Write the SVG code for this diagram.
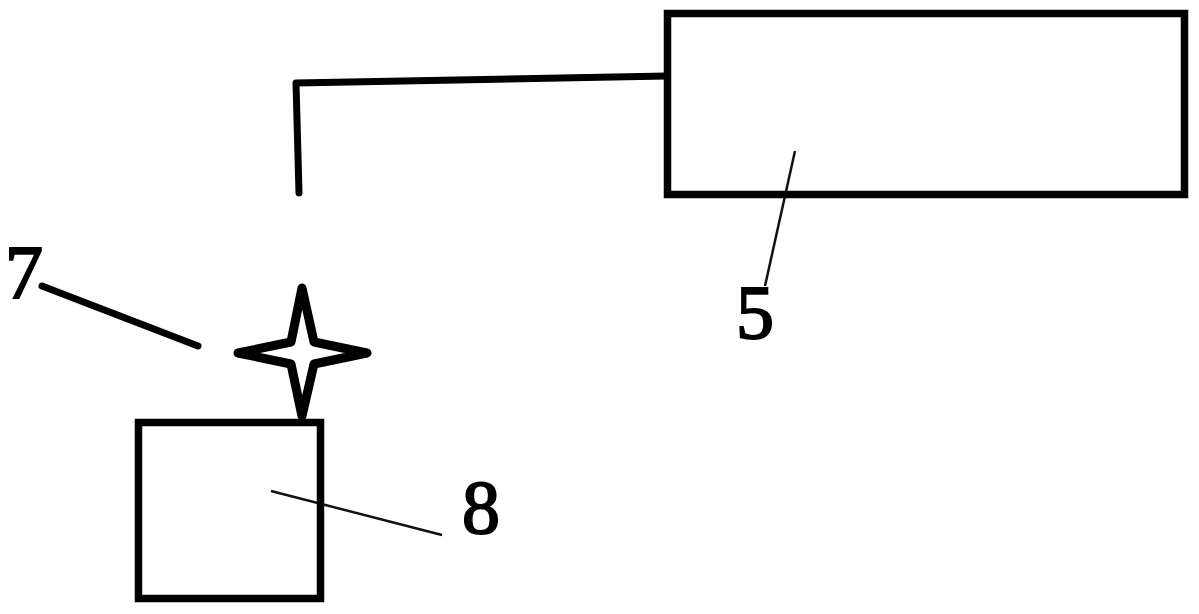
<svg xmlns="http://www.w3.org/2000/svg" width="1199" height="614" viewBox="0 0 1199 614">
<style>
.b{fill:none;stroke:#000;stroke-width:7;stroke-linejoin:round;stroke-linecap:round}
.s{fill:none;stroke:#000;stroke-width:9;stroke-linejoin:round;stroke-linecap:round}
.t{fill:none;stroke:#111;stroke-width:2.500}
.n{font-family:"Liberation Serif",serif;font-size:76px;fill:#000;stroke:#000;stroke-width:2}
.r{fill:none;stroke:#000;stroke-width:7.500}
</style>
<rect width="1199" height="614" fill="#fff"/>
<g id="connectors">
<path class="b" d="M299 193L296 83L667 76"/>
<path class="b" d="M42 286L198 346"/>
<path class="t" d="M795 151L765 286"/>
<path class="t" d="M271 491L442 535"/>
</g>
<g id="node-5"><rect class="r" x="667.500" y="13.500" width="517" height="181"/><text class="n" x="736" y="338">5</text></g>
<g id="node-7"><text class="n" x="5" y="298">7</text>
<path class="s" d="M302 288L314 342L367 353L314 364L302 416L291 364L238 353L291 342Z"/></g>
<g id="node-8"><rect class="r" x="138.500" y="422.500" width="182" height="176"/><text class="n" x="462" y="533">8</text></g>
</svg>
